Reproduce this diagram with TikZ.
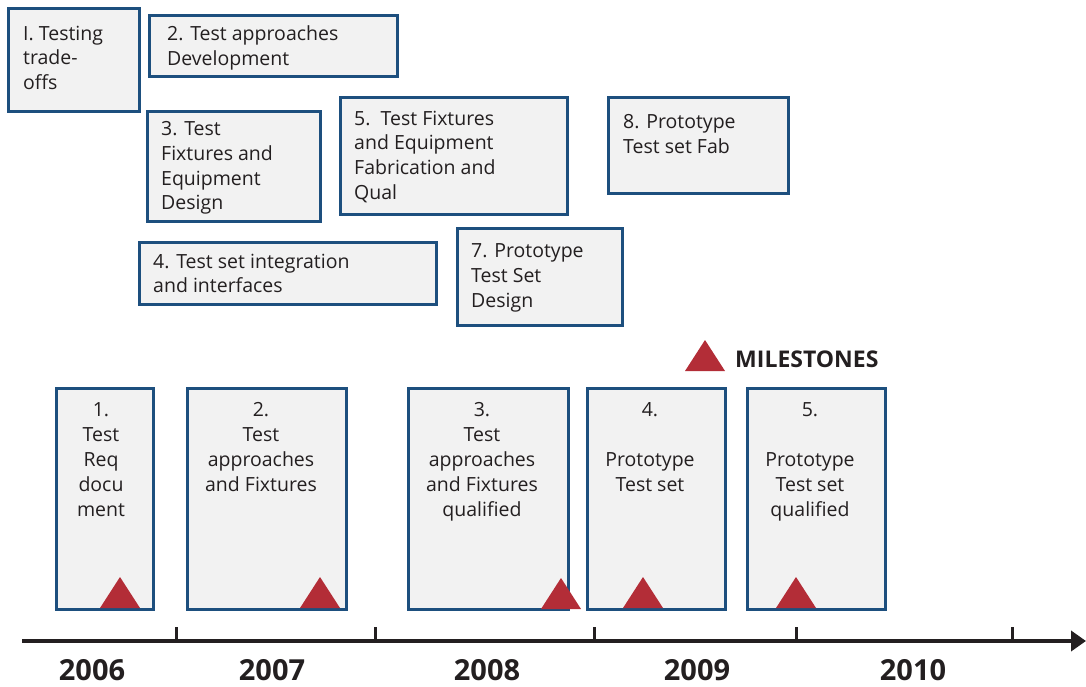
\documentclass[tikz,border=0pt]{standalone}
\usepackage{fontspec}
\setmainfont{Open Sans}
\usetikzlibrary{arrows.meta, positioning, calc}
\definecolor{boxblue}{HTML}{1D4F7E}
\definecolor{boxfill}{HTML}{F2F2F2}
\definecolor{msred}{HTML}{B32D37}
\definecolor{txtgray}{HTML}{231F20}
\newcommand{\milestone}[2]{\fill[msred] (#1-20,#2) -- (#1,#2-31) -- (#1+20,#2) -- cycle;}

\begin{document}
\begin{tikzpicture}[
			x=1pt, y=-1pt,
			taskbox/.style={rectangle, draw=boxblue, fill=boxfill, line width=2.6pt,
				anchor=north west, inner sep=0pt},
			tasktext/.style={anchor=north west, yshift=13.5pt, align=left, inner sep=0pt, text=txtgray,
				font=\fontsize{19.5}{24.7}\selectfont, execute at begin node=\strut},
			msbox/.style={rectangle, draw=boxblue, fill=boxfill, line width=2.6pt,
				anchor=north west, inner sep=0pt, minimum height=221pt},
			mstext/.style={anchor=north, yshift=13.5pt, align=center, inner sep=0pt, text=txtgray,
				font=\fontsize{19.5}{25}\selectfont, execute at begin node=\strut},
			year/.style={anchor=base, inner sep=0pt, text=txtgray,
				font=\fontsize{29}{30}\selectfont\bfseries},
			tick/.style={line width=3pt, txtgray}
			]
			\useasboundingbox (0,0) rectangle (1086,687);
			
			% tasks
			\node[taskbox, minimum width=131pt, minimum height=103pt] (T1) at (7,7) {};
			\node[tasktext] (T1t) at (23,39) {I. Testing\\trade-\\offs};
			\node[taskbox, minimum width=248pt, minimum height=61pt] (T2) at (148,14) {};
			\node[tasktext] (T2t) at (167,39) {2. Test approaches\\Development};
			\node[taskbox, minimum width=173pt, minimum height=110pt] (T3) at (146,110) {};
			\node[tasktext] (T3t) at (161,135) {3. Test\\Fixtures and\\Equipment\\Design};
			\node[taskbox, minimum width=227pt, minimum height=117pt] (T5) at (339,96) {};
			\node[tasktext] (T5t) at (354,124) {5.\ \ Test Fixtures\\and Equipment\\Fabrication and\\Qual};
			\node[taskbox, minimum width=180pt, minimum height=96pt] (T8) at (607,96) {};
			\node[tasktext] (T8t) at (623,128) {8. Prototype\\Test set Fab};
			\node[taskbox, minimum width=297pt, minimum height=62pt] (T4) at (138,241) {};
			\node[tasktext] (T4t) at (153,267) {4. Test set integration\\and interfaces};
			\node[taskbox, minimum width=165pt, minimum height=97pt] (T7) at (456,227) {};
			\node[tasktext] (T7t) at (471,257) {7. Prototype\\Test Set\\Design};
			
			% legend
			\milestone{705}{371}
			\node[anchor=base west, inner sep=0pt, text=txtgray,
				font=\fontsize{23}{26}\selectfont\bfseries] (legend) at (735,367) {MILESTONES};
			
			% milestones
			\node[msbox, minimum width=97pt] (M1) at (55,387) {};
			\node[mstext] (M1t) at (101,416) {1.\\Test\\Req\\docu\\ment};
			\node[msbox, minimum width=159pt] (M2) at (186,387) {};
			\node[mstext] (M2t) at (261,416) {2.\\Test\\approaches\\and Fixtures};
			\node[msbox, minimum width=160pt] (M3) at (407,387) {};
			\node[mstext] (M3t) at (482,416) {3.\\Test\\approaches\\and Fixtures\\qualified};
			\node[msbox, minimum width=138pt] (M4) at (586,387) {};
			\node[mstext] (M4t) at (650,416) {4.\\[25pt]Prototype\\Test set};
			\node[msbox, minimum width=138pt] (M5) at (746,387) {};
			\node[mstext] (M5t) at (810,416) {5.\\[25pt]Prototype\\Test set\\qualified};
			
			\milestone{120}{608}
			\milestone{320}{608}
			\milestone{561}{609}
			\milestone{643}{608}
			\milestone{796}{608}
			
			% time axis
			\coordinate (start) at (22,641);
			\coordinate (end) at (1086,641);
			\draw[line width=4pt, txtgray, -{Triangle[length=15pt, width=20pt]}] (start) -- (end);
			\foreach \x in {176, 375, 594, 796, 1012}
				\draw[tick] (\x,627) -- (\x,641);
			
			\node[year] (Y6) at (92,680) {2006};
			\node[year] (Y7) at (272,680) {2007};
			\node[year] (Y8) at (487,680) {2008};
			\node[year] (Y9) at (697,680) {2009};
			\node[year] (Y10) at (913,680) {2010};
		\end{tikzpicture}
\end{document}
